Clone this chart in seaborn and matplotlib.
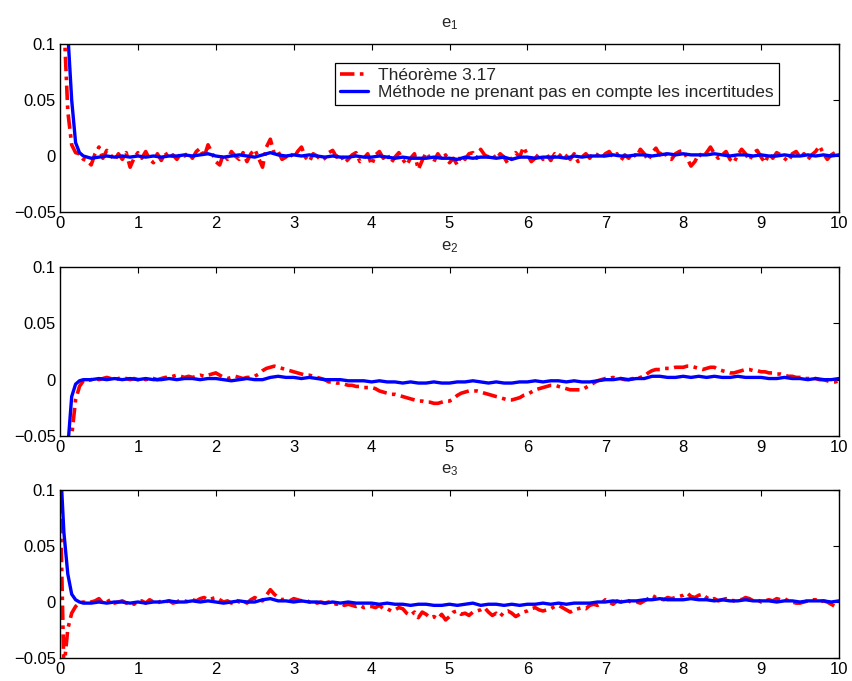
import numpy as np
import pandas as pd
import matplotlib
matplotlib.use("Agg")
import matplotlib.pyplot as plt
import seaborn as sns

# sample times: fast transient head, then regular grids
t_head = [0.0, 0.05, 0.1, 0.15, 0.2, 0.25, 0.3]
t_blue_body = np.round(np.arange(0.4, 10.001, 0.1), 2)
t_red_body = np.round(np.arange(0.35, 10.001, 0.05), 2)

# values, in units of 1e-3
e1_red_head = [300, 120, 40, 10, 3, 2, -3]
e1_red = [
    -4, -8, 2, 8, -2, 5, 1, -4, 2, -3, 3, -10, -2,
    3, -2, 4, -3, -6, 2, -4, 3, -2, 1, -3, 2, 0, 3, -2, 4, 7, -1, 10, 3,
    -5, -8, 2, -3, 4, 0, -3, 3, -5, 2, 6, -2, -10, 8, 15, 2, 4, -3, -1, 3,
    -2, 4, 8, -1, -5, 2, 0, -4, -2, 3, 5, -1, 2, -6, -3, 1, 3, -5, -2, 2,
    -8, 1, 4, -2, 2, -6, -1, 3, -3, -8, -2, 2, -12, -4, 3, -2, -5, 2, -3, 1,
    -6, -2, -8, 1, -3, 2, 3, -2, 6, 1, -1, 2, -3, 2, -1, -7, -2, 3, -1, 8,
    1, -5, -2, 2, -3, 1, -4, 2, -1, 3, 0, -3, 2, -5, -1, 2, -2, 3, 1, -2,
    2, 4, -1, 2, -4, 1, -2, 3, -1, 6, 2, -4, 3, 7, 1, 5, -2, -3, 2, 4,
    5, -2, -9, -5, 2, -1, 3, 8, 2, -2, 1, 4, -3, -6, 1, 6, 2, -4, 3, 5,
    -1, -6, 2, -2, 3, 1, -2, -5, 2, 4, -1, 2, -3, 1, 4, 9, 2, -3, 1, 3,
    5,
]
e1_blue_head = [400, 220, 110, 50, 12, 3, 0]
e1_blue = [
    -2, -1, 0, -1, 0, -1,
    0, -1, 0, -1, 0, 0, 1, 0, 1, 2,
    0, -1, 0, 1, 0, -1, 1, 3, 1, 0,
    1, 0, 1, 0, -1, 0, -1, -1, 0, -1,
    -1, 0, -1, -2, -1, -2, -2, -2, -1, -2,
    -2, -3, -1, -2, -1, -1, -2, -1, -3, -1,
    -1, -2, -1, -1, -1, -2, 0, -1, 0, 0,
    0, 1, 0, 0, 1, 1, 0, 1, 2, 1,
    2, 1, 1, 1, 2, 1, 0, 1, 1, 0,
    1, 0, 0, 1, 0, 0, 1, 0, 1, 0,
    1,
]

e2_red_head = [-400, -250, -110, -50, -18, -6, -1]
e2_red = [
    -1, 0, 1, 0, 1, 2, 1, 0, 1, 2, 1, 0, 1,
    0, 1, 0, 1, 1, 0, 1, 2, 2, 3, 4, 3, 2, 3, 2, 3, 4, 3, 4, 5,
    6, 4, 2, 1, 2, 3, 2, 1, 2, 2, 3, 5, 8, 10, 11, 12, 11, 10, 9, 8,
    7, 6, 5, 4, 4, 3, 2, 1, 0, -2, -2, -3, -3, -4, -5, -5, -6, -6, -7, -7,
    -7, -8, -10, -11, -12, -13, -13, -14, -15, -16, -17, -18, -19, -19, -20, -20, -21, -21, -20, -19,
    -19, -17, -14, -12, -11, -10, -10, -10, -11, -12, -13, -14, -15, -16, -17, -18, -18, -17, -16, -14,
    -13, -11, -9, -8, -7, -6, -5, -5, -6, -7, -8, -9, -9, -9, -9, -7, -5, -3, -1, 0,
    1, 1, 2, 1, 1, 0, 0, 1, 0, 2, 3, 6, 8, 9, 9, 10, 10, 10, 11, 11,
    11, 12, 12, 11, 10, 9, 10, 11, 11, 9, 8, 7, 6, 6, 7, 8, 9, 9, 8, 8,
    7, 7, 6, 6, 5, 5, 4, 3, 3, 2, 2, 1, 1, 1, 1, 0, 0, -1, -2, -2,
    -1,
]
e2_blue_head = [-300, -160, -60, -15, -4, -1, 0]
e2_blue = [
    0, 1, 0, 1, 0, 1,
    0, 1, 0, 0, 1, 0, 1, 1, 0, 1,
    1, 0, -1, 0, 1, 0, 0, 2, 3, 2,
    2, 1, 2, 1, 0, 0, 0, -1, -1, -1,
    -2, -1, -2, -2, -3, -2, -3, -3, -2, -3,
    -3, -2, -2, -1, -2, -3, -2, -3, -3, -2,
    -2, -1, -2, -1, -1, -2, -1, -2, -2, -1,
    0, 0, 1, 0, 1, 1, 3, 3, 2, 2,
    3, 2, 3, 2, 3, 2, 2, 3, 2, 2,
    2, 1, 1, 2, 1, 1, 0, 1, 0, 0,
    1,
]

e3_red_head = [100, -60, -24, -10, -4, -1, 0]
e3_red = [
    -1, 0, 1, 3, -1, 0, 2, -1, 0, 1, -1, 0, -2,
    0, 1, -1, 2, 0, -1, 1, 0, 1, -1, 0, 2, 1, 0, 2, 1, 3, 4, 2, 3,
    4, 2, 0, 1, -1, 2, 0, 1, -1, 2, 4, 2, 1, 6, 11, 7, 4, 2, 3, 1,
    3, 2, 1, 2, 0, 1, -1, 0, -1, 0, -1, -2, -1, -3, -2, -3, -4, -3, -5, -4,
    -4, -5, -3, -6, -6, -8, -7, -5, -6, -10, -12, -9, -14, -9, -11, -14, -13, -15, -11, -16,
    -13, -9, -8, -11, -10, -12, -9, -8, -7, -5, -9, -12, -10, -13, -9, -8, -10, -13, -11, -9,
    -8, -6, -5, -7, -8, -7, -6, -4, -3, -5, -7, -9, -7, -6, -5, -6, -3, -2, -3, -1,
    2, 0, -2, 1, 0, 2, 1, -1, 0, -1, 1, 3, 6, 4, 3, 2, 4, 3, 4, 5,
    6, 8, 5, 4, 6, 7, 4, 2, 3, 1, 2, 3, 2, 1, 3, 2, 4, 3, 1, 2,
    0, 1, 2, 1, 3, 2, 3, 1, 0, -1, -1, 0, 1, 2, 2, 0, 1, 0, -2, -4,
    -2,
]
e3_blue_head = [130, 62, 25, 7, 2, 0, -1]
e3_blue = [
    -1, 0, -1, 0, 0, -1,
    0, -1, 0, 0, 1, 0, 0, 1, 0, 1,
    0, -1, 0, 1, 0, 0, 2, 3, 1, 1,
    0, 1, 0, 0, -1, 0, -1, 0, -1, -1,
    -1, -2, -1, -2, -2, -3, -2, -2, -3, -3,
    -2, -3, -2, -1, -3, -2, -2, -3, -2, -3,
    -2, -2, -1, -2, -1, -2, -1, -1, -1, 0,
    0, 1, 0, 1, 1, 2, 2, 3, 2, 2,
    2, 3, 2, 2, 1, 2, 1, 1, 2, 1,
    1, 1, 0, 1, 1, 0, 1, 1, 1, 0,
    1,
]

titles = ["1", "2", "3"]
label_red = "Théorème 3.17"
label_blue = "Méthode ne prenant pas en compte les incertitudes"
xticks = list(range(0, 11))
yticks = [-0.05, 0, 0.05, 0.1]
ytick_labels = ["\u22120.05", "0", "0.05", "0.1"]

sns.set_style("white")
plt.rcParams["font.family"] = ["Liberation Sans", "DejaVu Sans"]
plt.rcParams["mathtext.fontset"] = "custom"
plt.rcParams["mathtext.rm"] = "Liberation Sans"

fig = plt.figure(figsize=(8.52, 6.81), dpi=100)
boxes = [
    [60 / 852, 1 - 212 / 681, 779 / 852, 168 / 681],
    [60 / 852, 1 - 436 / 681, 779 / 852, 169 / 681],
    [60 / 852, 1 - 658 / 681, 779 / 852, 168 / 681],
]
series = [
    (e1_red_head, e1_red, e1_blue_head, e1_blue),
    (e2_red_head, e2_red, e2_blue_head, e2_blue),
    (e3_red_head, e3_red, e3_blue_head, e3_blue),
]

axes = []
for i, (rh, rb, bh, bb) in enumerate(series):
    ax = fig.add_axes(boxes[i])
    red = pd.DataFrame({"t": list(t_head) + list(t_red_body),
                        "e": np.array(rh + rb) / 1000.0})
    blue = pd.DataFrame({"t": list(t_head) + list(t_blue_body),
                         "e": np.array(bh + bb) / 1000.0})
    sns.lineplot(data=red, x="t", y="e", ax=ax, color=(1, 0, 0), lw=2.6,
                 linestyle=(0, (4, 1.5, 1, 1.5)), estimator=None, sort=False,
                 label=label_red)
    sns.lineplot(data=blue, x="t", y="e", ax=ax, color=(0, 0, 1), lw=2.4,
                 estimator=None, sort=False, label=label_blue)
    ax.set_xlim(0, 10)
    ax.set_ylim(-0.05, 0.1)
    ax.set_xticks(xticks)
    ax.set_yticks(yticks)
    ax.set_yticklabels(ytick_labels)
    ax.set_xlabel("")
    ax.set_ylabel("")
    ax.tick_params(direction="in", length=4.5, width=0.8, top=True, right=True,
                   labelsize=12, pad=3, colors="black")
    for s in ax.spines.values():
        s.set_color("black")
        s.set_linewidth(1.0)
    ax.set_title(r"$\mathregular{e_%s}$" % titles[i], fontsize=12, pad=12)
    ax.get_legend().remove()
    axes.append(ax)

h, l = axes[0].get_legend_handles_labels()
leg = fig.legend(h, l, loc="upper left", bbox_to_anchor=(335 / 852, 1 - 63 / 681),
                 bbox_transform=fig.transFigure, borderaxespad=0, fontsize=12.5,
                 frameon=True, fancybox=False, edgecolor="black", framealpha=1,
                 handlelength=1.6, handletextpad=0.6, borderpad=0.3,
                 labelspacing=0.1)
leg.get_frame().set_linewidth(0.9)

fig.savefig("out.png", dpi=100)
